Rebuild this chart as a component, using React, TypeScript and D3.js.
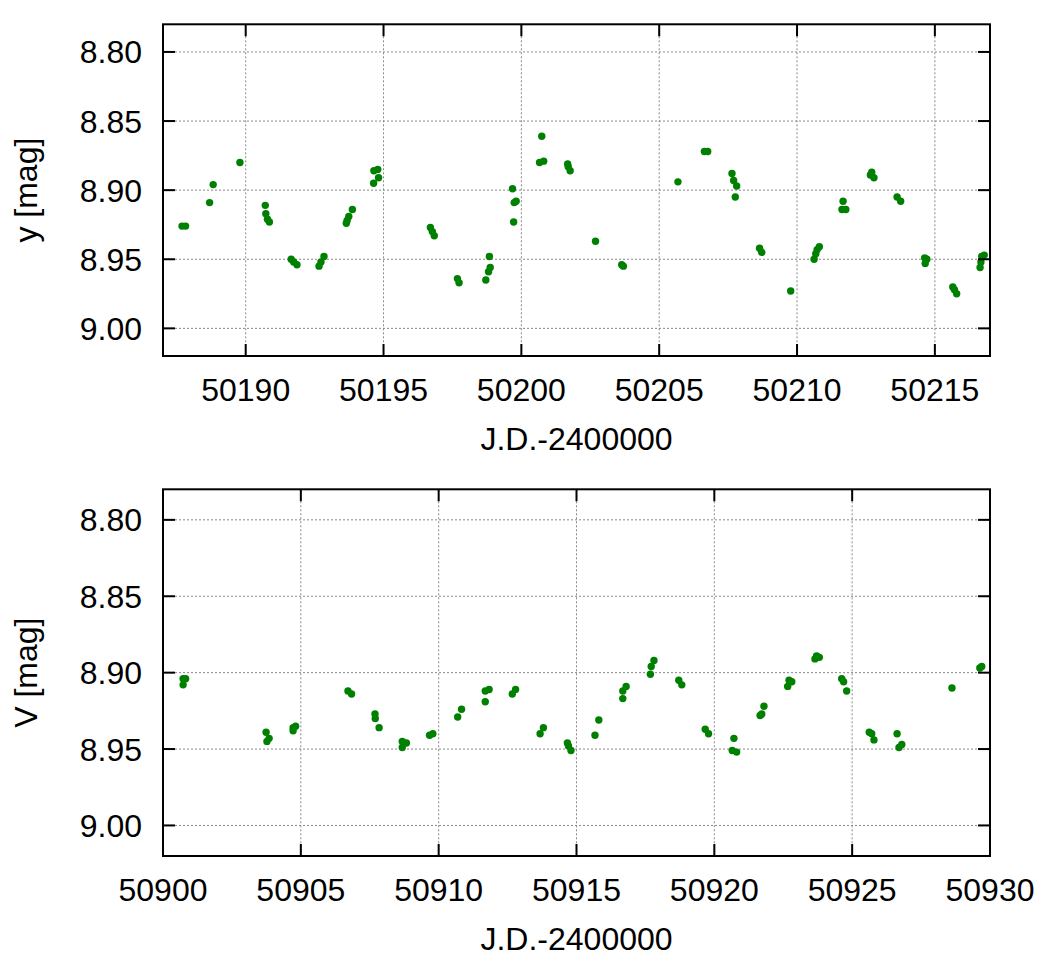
import * as d3 from 'd3'

// y-band photometry (Strömgren y), first season
const yJD = [
  50187.69, 50187.82, 50188.69, 50188.82, 50189.79,
  50190.71, 50190.73, 50190.79, 50190.86,
  50191.65, 50191.74, 50191.86,
  50192.66, 50192.73, 50192.84,
  50193.65, 50193.68, 50193.74, 50193.87,
  50194.64, 50194.65, 50194.79, 50194.82,
  50196.70, 50196.77, 50196.84,
  50197.68, 50197.74,
  50198.71, 50198.81, 50198.87, 50198.84,
  50199.68, 50199.74, 50199.81, 50199.72,
  50200.74, 50200.66, 50200.81,
  50201.68, 50201.70, 50201.77,
  50202.69, 50203.64, 50203.70,
  50205.68, 50206.64, 50206.76,
  50207.64, 50207.70, 50207.81, 50207.76,
  50208.64, 50208.72,
  50209.77,
  50210.62, 50210.68, 50210.73, 50210.81,
  50211.67, 50211.63, 50211.77,
  50212.71, 50212.66, 50212.79,
  50213.63, 50213.76,
  50214.63, 50214.71, 50214.65,
  50215.65, 50215.71, 50215.79,
  50216.64, 50216.67, 50216.70, 50216.79,
]
const yMag = [
  8.926, 8.926, 8.909, 8.896, 8.880,
  8.911, 8.917, 8.921, 8.923,
  8.950, 8.952, 8.954,
  8.955, 8.952, 8.948,
  8.924, 8.922, 8.919, 8.914,
  8.895, 8.886, 8.885, 8.891,
  8.927, 8.930, 8.933,
  8.964, 8.967,
  8.965, 8.959, 8.956, 8.948,
  8.899, 8.909, 8.908, 8.923,
  8.861, 8.880, 8.879,
  8.881, 8.883, 8.886,
  8.937, 8.954, 8.955,
  8.894, 8.872, 8.872,
  8.888, 8.893, 8.897, 8.905,
  8.942, 8.945,
  8.973,
  8.950, 8.946, 8.943, 8.941,
  8.908, 8.914, 8.914,
  8.887, 8.889, 8.891,
  8.905, 8.908,
  8.949, 8.950, 8.953,
  8.970, 8.972, 8.975,
  8.956, 8.952, 8.948, 8.947,
]

// Johnson V photometry, second season
const vJD = [
  50900.73, 50900.82, 50900.73,
  50903.74, 50903.85, 50903.77,
  50904.72, 50904.81, 50904.72,
  50906.71, 50906.84,
  50907.69, 50907.70, 50907.84,
  50908.68, 50908.83, 50908.68,
  50909.67, 50909.79,
  50910.69, 50910.83,
  50911.69, 50911.83, 50911.69,
  50912.67, 50912.79,
  50913.68, 50913.80,
  50914.67, 50914.71, 50914.80,
  50915.67, 50915.81,
  50916.68, 50916.80, 50916.68,
  50917.71, 50917.81, 50917.68,
  50918.71, 50918.82,
  50919.67, 50919.79,
  50920.71, 50920.65, 50920.81,
  50921.66, 50921.72, 50921.80,
  50922.66, 50922.71, 50922.81,
  50923.65, 50923.71, 50923.81,
  50924.62, 50924.69, 50924.80,
  50925.62, 50925.71, 50925.79,
  50926.63, 50926.70, 50926.80,
  50928.62,
  50929.63, 50929.70,
]
const vMag = [
  8.904, 8.904, 8.908,
  8.939, 8.943, 8.945,
  8.936, 8.935, 8.938,
  8.912, 8.914,
  8.927, 8.930, 8.936,
  8.945, 8.946, 8.949,
  8.941, 8.940,
  8.929, 8.924,
  8.912, 8.911, 8.919,
  8.914, 8.911,
  8.940, 8.936,
  8.946, 8.948, 8.951,
  8.941, 8.931,
  8.912, 8.909, 8.917,
  8.896, 8.892, 8.901,
  8.905, 8.908,
  8.937, 8.940,
  8.943, 8.951, 8.952,
  8.928, 8.927, 8.922,
  8.909, 8.905, 8.906,
  8.891, 8.889, 8.890,
  8.904, 8.906, 8.912,
  8.939, 8.940, 8.944,
  8.940, 8.949, 8.947,
  8.910,
  8.897, 8.896,
]

const magTicks = [8.80, 8.85, 8.90, 8.95, 9.00]
const yTicksJD = [50190, 50195, 50200, 50205, 50210, 50215]
const vTicksJD = [50900, 50905, 50910, 50915, 50920, 50925, 50930]

const font = '"Liberation Sans", Arial, Helvetica, sans-serif'
const left = 163
const right = 990
const tickLen = 12

type PanelProps = {
  jd: number[]
  mag: number[]
  xDomain: [number, number]
  xTicks: number[]
  yLabel: string
  top: number
  bottom: number
}

const Panel = ({ jd, mag, xDomain, xTicks, yLabel, top, bottom }: PanelProps) => {
  const x = d3.scaleLinear().domain(xDomain).range([left, right])
  const y = d3.scaleLinear().domain([8.78, 9.02]).range([top, bottom])
  const midY = (top + bottom) / 2

  return (
    <g>
      {/* dotted grid */}
      <g stroke="#888" strokeWidth={1} strokeDasharray="2,2">
        {magTicks.map(t => (
          <line key={'gy' + t} x1={left} x2={right} y1={y(t)} y2={y(t)} />
        ))}
        {xTicks.map(t => (
          <line key={'gx' + t} x1={x(t)} x2={x(t)} y1={top} y2={bottom} />
        ))}
      </g>

      {/* observations */}
      <g fill="#008000">
        {jd.map((d, i) => (
          <circle key={i} cx={x(d)} cy={y(mag[i])} r={3.7} />
        ))}
      </g>

      {/* frame and inward ticks */}
      <g stroke="#000" strokeWidth={2}>
        {magTicks.map(t => (
          <g key={'ty' + t}>
            <line x1={left} x2={left + tickLen} y1={y(t)} y2={y(t)} />
            <line x1={right} x2={right - tickLen} y1={y(t)} y2={y(t)} />
          </g>
        ))}
        {xTicks.map(t => (
          <g key={'tx' + t}>
            <line x1={x(t)} x2={x(t)} y1={bottom} y2={bottom - tickLen} />
            <line x1={x(t)} x2={x(t)} y1={top} y2={top + tickLen} />
          </g>
        ))}
        <rect x={left} y={top} width={right - left} height={bottom - top} fill="none" />
      </g>

      <g fontFamily={font} fontSize={32} fill="#000">
        {magTicks.map(t => (
          <text key={'ly' + t} x={left - 21} y={y(t)} dy="0.36em" textAnchor="end">
            {t.toFixed(2)}
          </text>
        ))}
        {xTicks.map(t => (
          <text key={'lx' + t} x={x(t)} y={bottom + 45} textAnchor="middle">
            {t}
          </text>
        ))}
        <text x={(left + right) / 2} y={bottom + 94} textAnchor="middle">
          J.D.-2400000
        </text>
        <text transform={`translate(37,${midY}) rotate(-90)`} textAnchor="middle">
          {yLabel}
        </text>
      </g>
    </g>
  )
}

const App = () => {
  return (
    <svg
      width={1042}
      height={980}
      style={{ position: 'absolute', left: 0, top: 0, background: '#fff' }}
    >
      <Panel
        jd={yJD}
        mag={yMag}
        xDomain={[50187, 50217]}
        xTicks={yTicksJD}
        yLabel="y [mag]"
        top={24.3}
        bottom={356}
      />
      <Panel
        jd={vJD}
        mag={vMag}
        xDomain={[50900, 50930]}
        xTicks={vTicksJD}
        yLabel="V [mag]"
        top={489.3}
        bottom={856}
      />
    </svg>
  )
}

export default App
